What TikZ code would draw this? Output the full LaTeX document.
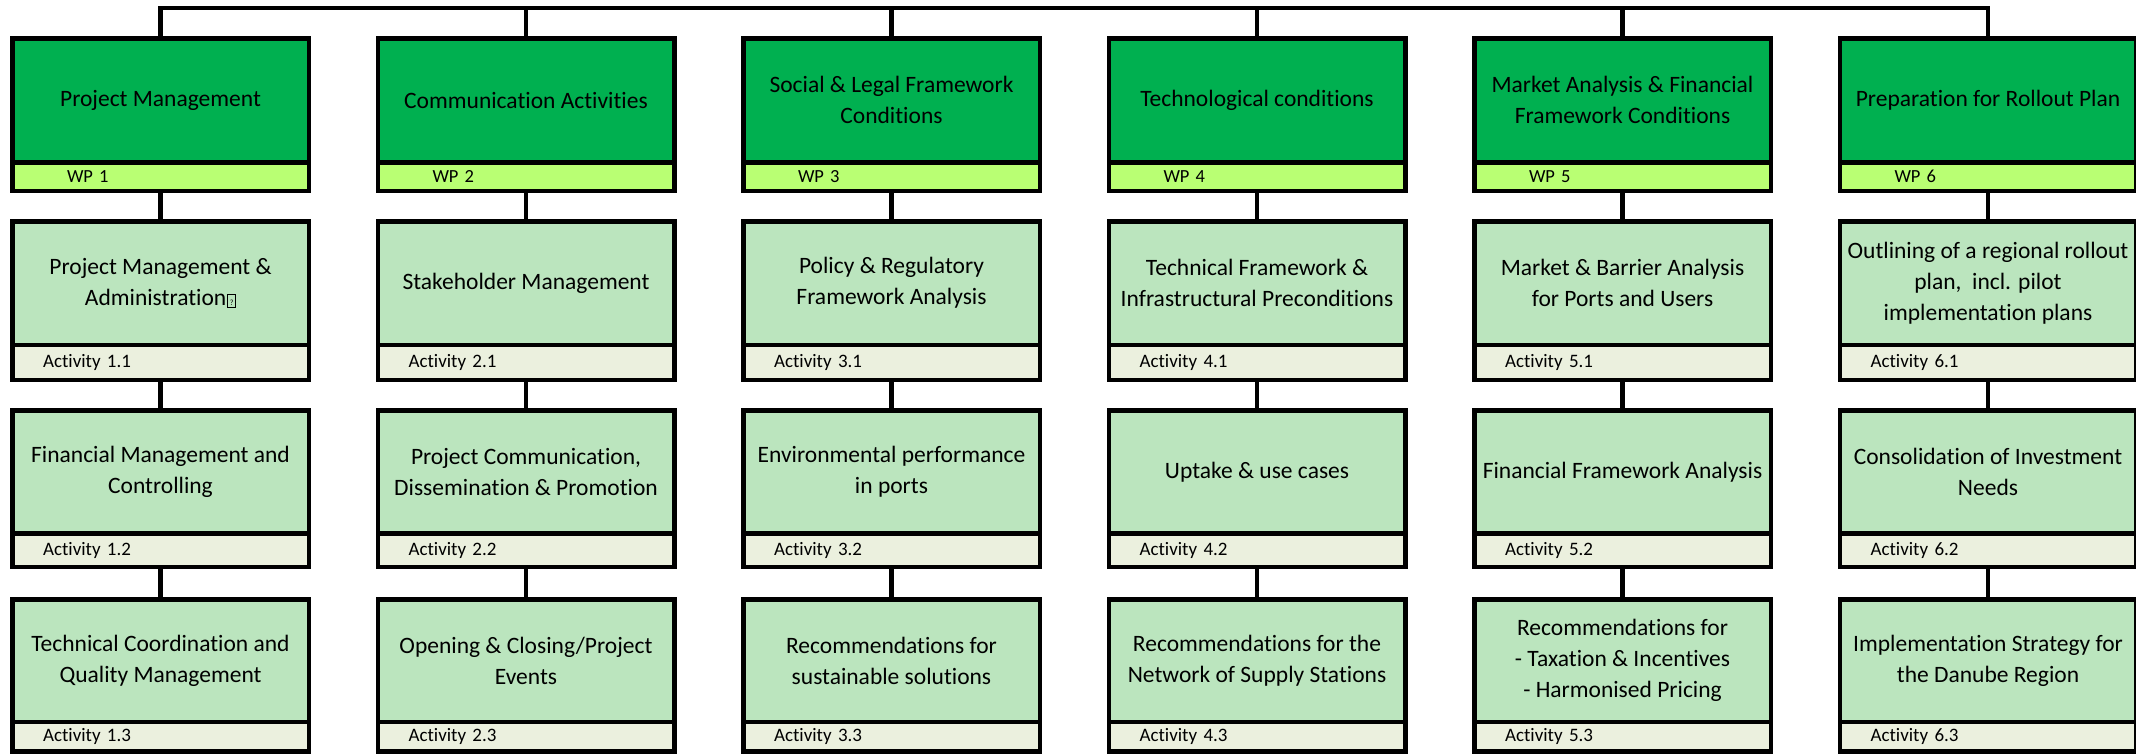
\documentclass[tikz,border=0pt]{standalone}
\usepackage{fontspec}
\setmainfont{Carlito}[Ligatures=NoCommon]
\definecolor{hdrgreen}{RGB}{0,176,80}
\definecolor{wplime}{RGB}{185,255,115}
\definecolor{actgreen}{RGB}{187,229,190}
\definecolor{actbar}{RGB}{235,240,222}
\newcommand\qbox{\kern1pt{\fboxsep=0.6pt\fboxrule=0.8pt\fbox{\makebox[6pt]{\rule{0pt}{10.5pt}\fontsize{8}{8}\selectfont ?}}}}
\tikzset{
  boxpart/.style={draw=black, line width=4.5pt, outer sep=0pt, minimum width=296.5pt, anchor=north west},
  hdr/.style={boxpart, fill=hdrgreen, minimum height=124.25pt, align=center, inner sep=2pt, font=\fontsize{23.5}{31}\selectfont},
  wpbar/.style={boxpart, fill=wplime, minimum height=28.25pt, inner xsep=54.75pt, inner ysep=0pt, text width=187pt, align=left, font=\fontsize{18.5}{20}\selectfont},
  actmain/.style={boxpart, fill=actgreen, align=center, inner sep=2pt, font=\fontsize{23.5}{31}\selectfont},
  actlabel/.style={boxpart, fill=actbar, inner xsep=30.75pt, inner ysep=0pt, text width=235pt, align=left, font=\fontsize{19}{20}\selectfont},
  conn/.style={line width=4.5pt, draw=black}
}
% #1 column, #2 text
\newcommand\mkhead[2]{%
  \pgfmathsetmacro\xl{10+365.5*(#1-1)+2.25}
  \node[hdr] (h#1) at (\xl,38.25) {#2};
  \node[wpbar] (w#1) at (\xl,162.5) {WP #1};
}
% #1 column, #2 row, #3 top, #4 divider, #5 bottom, #6 text
\newcommand\mkact[6]{%
  \pgfmathsetmacro\xl{10+365.5*(#1-1)+2.25}
  \pgfmathsetmacro\hm{#4-#3}
  \pgfmathsetmacro\hb{#5-#4}
  \node[actmain, minimum height=\hm pt] (a#1#2) at (\xl,#3) {#6};
  \node[actlabel, minimum height=\hb pt] (b#1#2) at (\xl,#4) {Activity #1.#2};
}
\newcommand\rowA[2]{\mkact{#1}{1}{221.25}{345}{379.75}{#2}}
\newcommand\rowB[2]{\mkact{#1}{2}{410.25}{533.25}{567}{#2}}
\newcommand\rowC[2]{\mkact{#1}{3}{599.25}{722}{751.5}{#2}}
\begin{document}
\begin{tikzpicture}[x=1pt,y=-1pt]
\useasboundingbox (0,0) rectangle (2136,755);
\fill[white] (0,0) rectangle (2136,755);
% headers
\mkhead{1}{Project Management}
\mkhead{2}{Communication Activities}
\mkhead{3}{Social \& Legal Framework\\Conditions}
\mkhead{4}{Technological conditions}
\mkhead{5}{Market Analysis \& Financial\\Framework Conditions}
\mkhead{6}{Preparation for Rollout Plan}
% row 1
\rowA{1}{Project Management \&\\Administration\qbox}
\rowA{2}{Stakeholder Management}
\rowA{3}{Policy \& Regulatory\\Framework Analysis}
\rowA{4}{Technical Framework \&\\Infrastructural Preconditions}
\rowA{5}{Market \& Barrier Analysis\\for Ports and Users}
\rowA{6}{Outlining of a regional rollout\\plan,\ \ incl. pilot\\implementation plans}
% row 2
\rowB{1}{Financial Management and\\Controlling}
\rowB{2}{Project Communication,\\Dissemination \& Promotion}
\rowB{3}{Environmental performance\\in ports}
\rowB{4}{Uptake \& use cases}
\rowB{5}{Financial Framework Analysis}
\rowB{6}{Consolidation of Investment\\Needs}
% row 3
\rowC{1}{Technical Coordination and\\Quality Management}
\rowC{2}{Opening \& Closing/Project\\Events}
\rowC{3}{Recommendations for\\sustainable solutions}
\rowC{4}{Recommendations for the\\Network of Supply Stations}
\rowC{5}{Recommendations for\\- Taxation \& Incentives\\- Harmonised Pricing}
\rowC{6}{Implementation Strategy for\\the Danube Region}
% bus connector
\coordinate (bus) at (0,8);
\draw[conn] (h1.north) |- (bus -| h6.north) -- (h6.north);
\foreach \i in {2,...,5} {\draw[conn] (h\i.north) -- (h\i.north |- bus);}
% vertical connectors
\foreach \i in {1,...,6} {
  \draw[conn] (w\i.south) -- (a\i1.north);
  \draw[conn] (b\i1.south) -- (a\i2.north);
  \draw[conn] (b\i2.south) -- (a\i3.north);
}
\end{tikzpicture}
\end{document}
